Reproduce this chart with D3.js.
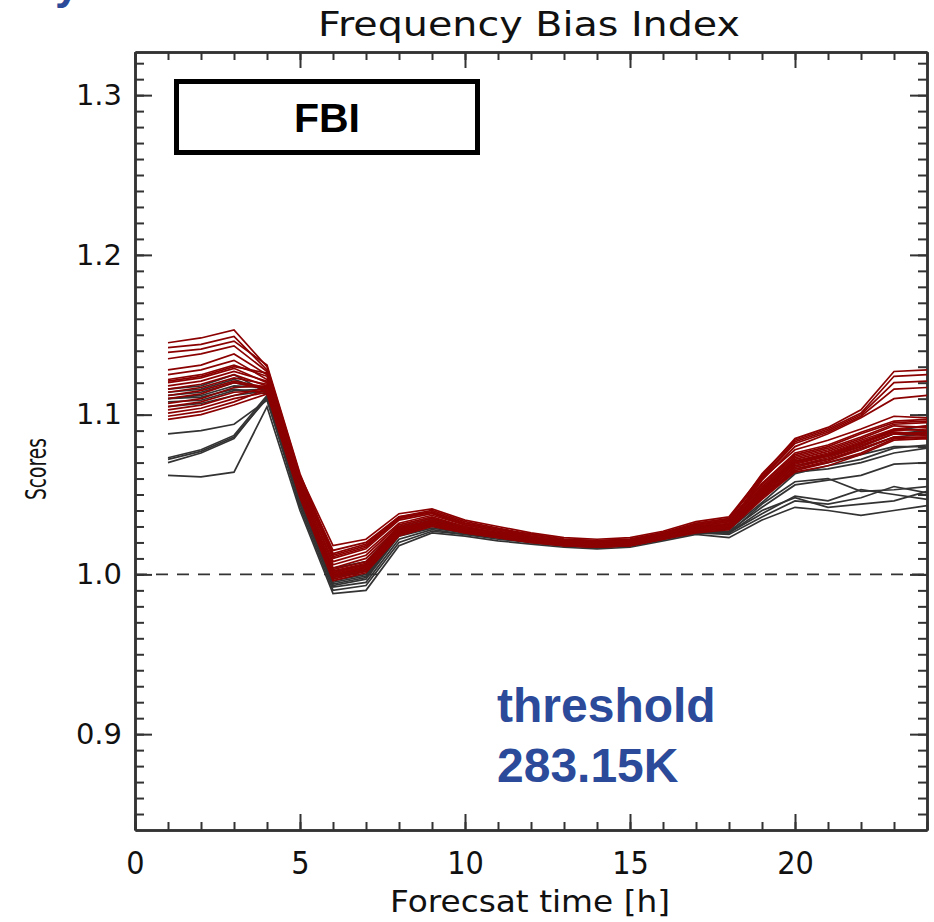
<!DOCTYPE html>
<html>
<head>
<meta charset="utf-8">
<script src="https://cdn.jsdelivr.net/npm/d3@7"></script>
<style>
  body { margin: 0; background: #fff; }
  svg { display: block; }
</style>
</head>
<body>
<div id="chart"></div>
<script>
// forecast hours
var hours = [1, 2, 3, 4, 5, 6, 7, 8, 9, 10, 11, 12, 13, 14, 15, 16, 17, 18, 19, 20, 21, 22, 23, 24];

// grey members (FBI per forecast hour)
var grey01 = [1.062, 1.061, 1.064, 1.105, 1.040, 0.988, 0.990, 1.018, 1.026, 1.024, 1.021, 1.019, 1.017, 1.016, 1.017, 1.021, 1.025, 1.023, 1.034, 1.042, 1.040, 1.037, 1.040, 1.043];
var grey02 = [1.072, 1.077, 1.086, 1.110, 1.042, 0.990, 0.993, 1.020, 1.027, 1.025, 1.022, 1.020, 1.018, 1.017, 1.018, 1.022, 1.026, 1.025, 1.036, 1.046, 1.044, 1.048, 1.055, 1.051];
var grey03 = [1.070, 1.076, 1.085, 1.111, 1.044, 0.992, 0.995, 1.022, 1.028, 1.025, 1.023, 1.020, 1.018, 1.017, 1.018, 1.022, 1.026, 1.026, 1.038, 1.049, 1.046, 1.053, 1.050, 1.047];
var grey04 = [1.073, 1.078, 1.087, 1.112, 1.046, 0.993, 0.997, 1.024, 1.029, 1.026, 1.023, 1.021, 1.019, 1.018, 1.019, 1.023, 1.027, 1.026, 1.040, 1.048, 1.042, 1.044, 1.046, 1.052];
var grey05 = [1.088, 1.090, 1.094, 1.109, 1.045, 0.994, 0.998, 1.025, 1.030, 1.026, 1.024, 1.021, 1.019, 1.018, 1.019, 1.023, 1.027, 1.027, 1.042, 1.056, 1.059, 1.062, 1.069, 1.070];
var grey06 = [1.105, 1.107, 1.112, 1.115, 1.048, 0.996, 1.000, 1.026, 1.031, 1.027, 1.024, 1.021, 1.019, 1.018, 1.019, 1.023, 1.028, 1.028, 1.045, 1.063, 1.068, 1.072, 1.079, 1.081];
var grey07 = [1.108, 1.109, 1.115, 1.116, 1.050, 0.998, 1.002, 1.027, 1.032, 1.028, 1.025, 1.022, 1.020, 1.019, 1.020, 1.024, 1.029, 1.029, 1.048, 1.066, 1.070, 1.075, 1.080, 1.080];
var grey08 = [1.110, 1.112, 1.118, 1.117, 1.052, 1.000, 1.004, 1.028, 1.033, 1.028, 1.025, 1.022, 1.020, 1.019, 1.020, 1.024, 1.029, 1.030, 1.050, 1.068, 1.072, 1.078, 1.086, 1.088];
var grey09 = [1.112, 1.114, 1.120, 1.116, 1.050, 1.002, 1.006, 1.029, 1.034, 1.029, 1.026, 1.023, 1.021, 1.019, 1.020, 1.024, 1.030, 1.031, 1.052, 1.070, 1.074, 1.080, 1.088, 1.090];
var grey10 = [1.114, 1.116, 1.122, 1.115, 1.052, 1.004, 1.008, 1.030, 1.035, 1.029, 1.026, 1.023, 1.021, 1.020, 1.021, 1.025, 1.030, 1.031, 1.053, 1.071, 1.075, 1.082, 1.090, 1.093];
var grey11 = [1.116, 1.118, 1.125, 1.114, 1.049, 0.999, 1.003, 1.027, 1.032, 1.028, 1.025, 1.022, 1.020, 1.019, 1.020, 1.024, 1.029, 1.029, 1.049, 1.064, 1.066, 1.070, 1.076, 1.079];
var grey12 = [1.110, 1.111, 1.116, 1.113, 1.046, 0.995, 0.999, 1.026, 1.031, 1.027, 1.024, 1.021, 1.019, 1.018, 1.019, 1.023, 1.027, 1.026, 1.044, 1.058, 1.060, 1.052, 1.053, 1.055];

// red members
var red01 = [1.145, 1.148, 1.153, 1.130, 1.062, 1.018, 1.022, 1.038, 1.041, 1.034, 1.030, 1.026, 1.023, 1.022, 1.023, 1.027, 1.033, 1.036, 1.062, 1.085, 1.092, 1.103, 1.127, 1.128];
var red02 = [1.142, 1.144, 1.149, 1.128, 1.060, 1.015, 1.020, 1.036, 1.040, 1.033, 1.029, 1.025, 1.022, 1.021, 1.022, 1.026, 1.032, 1.035, 1.060, 1.078, 1.084, 1.091, 1.099, 1.098];
var red03 = [1.139, 1.141, 1.146, 1.131, 1.063, 1.012, 1.018, 1.035, 1.039, 1.032, 1.028, 1.025, 1.022, 1.021, 1.022, 1.026, 1.031, 1.034, 1.063, 1.084, 1.091, 1.101, 1.124, 1.125];
var red04 = [1.135, 1.138, 1.143, 1.127, 1.058, 1.010, 1.016, 1.034, 1.038, 1.031, 1.027, 1.024, 1.021, 1.020, 1.021, 1.025, 1.031, 1.034, 1.057, 1.076, 1.081, 1.089, 1.096, 1.097];
var red05 = [1.128, 1.131, 1.138, 1.125, 1.060, 1.013, 1.019, 1.036, 1.039, 1.032, 1.028, 1.025, 1.022, 1.021, 1.022, 1.026, 1.032, 1.035, 1.061, 1.083, 1.090, 1.100, 1.120, 1.121];
var red06 = [1.125, 1.128, 1.134, 1.122, 1.056, 1.008, 1.014, 1.032, 1.037, 1.031, 1.027, 1.023, 1.021, 1.020, 1.021, 1.025, 1.030, 1.033, 1.055, 1.074, 1.079, 1.086, 1.094, 1.095];
var red07 = [1.122, 1.125, 1.131, 1.124, 1.057, 1.006, 1.012, 1.031, 1.036, 1.030, 1.026, 1.023, 1.020, 1.019, 1.020, 1.025, 1.030, 1.033, 1.054, 1.073, 1.078, 1.085, 1.093, 1.092];
var red08 = [1.120, 1.123, 1.129, 1.120, 1.055, 1.004, 1.010, 1.030, 1.035, 1.030, 1.026, 1.023, 1.020, 1.019, 1.020, 1.024, 1.029, 1.032, 1.060, 1.082, 1.089, 1.099, 1.116, 1.117];
var red09 = [1.118, 1.121, 1.127, 1.121, 1.054, 1.003, 1.008, 1.029, 1.034, 1.029, 1.025, 1.022, 1.020, 1.019, 1.020, 1.024, 1.029, 1.032, 1.053, 1.072, 1.077, 1.084, 1.091, 1.090];
var red10 = [1.116, 1.119, 1.125, 1.118, 1.053, 1.001, 1.006, 1.028, 1.034, 1.029, 1.025, 1.022, 1.019, 1.018, 1.019, 1.024, 1.028, 1.031, 1.059, 1.080, 1.088, 1.098, 1.110, 1.112];
var red11 = [1.114, 1.117, 1.123, 1.119, 1.054, 1.002, 1.007, 1.029, 1.033, 1.028, 1.025, 1.022, 1.019, 1.018, 1.019, 1.023, 1.028, 1.031, 1.052, 1.070, 1.075, 1.082, 1.089, 1.088];
var red12 = [1.112, 1.115, 1.121, 1.117, 1.052, 1.000, 1.005, 1.027, 1.033, 1.028, 1.024, 1.021, 1.019, 1.018, 1.019, 1.023, 1.028, 1.030, 1.051, 1.069, 1.074, 1.081, 1.088, 1.087];
var red13 = [1.110, 1.113, 1.120, 1.116, 1.051, 0.999, 1.004, 1.026, 1.032, 1.027, 1.024, 1.021, 1.019, 1.018, 1.019, 1.023, 1.027, 1.030, 1.050, 1.067, 1.072, 1.079, 1.086, 1.086];
var red14 = [1.107, 1.110, 1.117, 1.118, 1.053, 1.001, 1.006, 1.028, 1.033, 1.028, 1.025, 1.022, 1.019, 1.018, 1.019, 1.023, 1.028, 1.030, 1.052, 1.071, 1.076, 1.083, 1.090, 1.091];
var red15 = [1.105, 1.108, 1.114, 1.115, 1.050, 0.998, 1.003, 1.026, 1.031, 1.027, 1.024, 1.021, 1.018, 1.017, 1.018, 1.022, 1.027, 1.029, 1.049, 1.066, 1.071, 1.078, 1.086, 1.085];
var red16 = [1.103, 1.106, 1.112, 1.117, 1.052, 1.000, 1.005, 1.027, 1.032, 1.027, 1.024, 1.021, 1.019, 1.018, 1.019, 1.023, 1.028, 1.030, 1.051, 1.070, 1.075, 1.082, 1.091, 1.093];
var red17 = [1.101, 1.104, 1.110, 1.114, 1.049, 0.997, 1.002, 1.025, 1.031, 1.026, 1.023, 1.020, 1.018, 1.017, 1.018, 1.022, 1.027, 1.029, 1.048, 1.065, 1.070, 1.076, 1.085, 1.086];
var red18 = [1.099, 1.102, 1.108, 1.116, 1.051, 0.999, 1.004, 1.027, 1.032, 1.027, 1.024, 1.021, 1.019, 1.018, 1.019, 1.023, 1.028, 1.030, 1.050, 1.068, 1.073, 1.080, 1.088, 1.089];
var red19 = [1.097, 1.100, 1.106, 1.113, 1.048, 0.996, 1.001, 1.024, 1.030, 1.026, 1.023, 1.020, 1.018, 1.017, 1.018, 1.022, 1.026, 1.028, 1.047, 1.064, 1.068, 1.075, 1.084, 1.085];
var red20 = [1.121, 1.124, 1.130, 1.126, 1.059, 1.011, 1.017, 1.035, 1.039, 1.032, 1.028, 1.024, 1.021, 1.020, 1.021, 1.026, 1.031, 1.034, 1.056, 1.075, 1.080, 1.088, 1.095, 1.096];

var greySeries = [grey01, grey02, grey03, grey04, grey05, grey06, grey07, grey08, grey09, grey10, grey11, grey12];
var redSeries = [red01, red02, red03, red04, red05, red06, red07, red08, red09, red10, red11, red12,
                 red13, red14, red15, red16, red17, red18, red19, red20];

// axis ticks
var xMajorTicks = [0, 5, 10, 15, 20];
var yMajorTicks = [0.9, 1.0, 1.1, 1.2, 1.3];
var yTickLabels = ["0.9", "1.0", "1.1", "1.2", "1.3"];

// 圖表尺寸
var W = 934, H = 922;
var margin = { top: 52, right: 7, bottom: 92, left: 135 },
    width = W - margin.left - margin.right,
    height = H - margin.top - margin.bottom;

var svg = d3.select("#chart")
    .append("svg")
    .attr("width", W)
    .attr("height", H);

var g = svg.append("g")
    .attr("transform", "translate(" + margin.left + "," + margin.top + ")");

var x = d3.scaleLinear().domain([0, 24]).range([0, width]);
var y = d3.scaleLinear().domain([0.84, 1.327]).range([height, 0]);

var axisColor = "#333";
var tickFont = "'DejaVu Sans', sans-serif";

// minor ticks (1 h, 0.01)
var xMinor = d3.range(0, 25, 1);
var yMinor = d3.range(85, 133, 1).map(function(d) { return d / 100; });

function styleAxis(sel) {
    sel.selectAll("line").attr("stroke", axisColor).attr("stroke-width", 2);
    sel.selectAll("path").attr("stroke", axisColor).attr("stroke-width", 2.5);
}

// bottom
g.append("g").attr("transform", "translate(0," + height + ")")
    .call(d3.axisBottom(x).tickValues(xMinor).tickSize(-8).tickSizeOuter(0).tickFormat(""))
    .call(styleAxis);
var xAx = g.append("g").attr("transform", "translate(0," + height + ")")
    .call(d3.axisBottom(x).tickValues(xMajorTicks).tickSize(-16).tickSizeOuter(0).tickPadding(21)
        .tickFormat(d3.format("d")))
    .call(styleAxis);
xAx.selectAll("text")
    .attr("fill", "#111")
    .style("font-family", "'DejaVu Sans Condensed', 'DejaVu Sans', sans-serif")
    .style("font-size", "32px");

// top
g.append("g")
    .call(d3.axisTop(x).tickValues(xMinor).tickSize(-8).tickSizeOuter(0).tickFormat(""))
    .call(styleAxis);
g.append("g")
    .call(d3.axisTop(x).tickValues(xMajorTicks).tickSize(-16).tickSizeOuter(0).tickFormat(""))
    .call(styleAxis);

// left
g.append("g")
    .call(d3.axisLeft(y).tickValues(yMinor).tickSize(-9).tickSizeOuter(0).tickFormat(""))
    .call(styleAxis);
var yAx = g.append("g")
    .call(d3.axisLeft(y).tickValues(yMajorTicks).tickSize(-17).tickSizeOuter(0).tickPadding(13)
        .tickFormat(function(d, i) { return yTickLabels[i]; }))
    .call(styleAxis);
yAx.selectAll("text")
    .attr("fill", "#111")
    .style("font-family", tickFont)
    .style("font-size", "29px");

// right
g.append("g").attr("transform", "translate(" + width + ",0)")
    .call(d3.axisRight(y).tickValues(yMinor).tickSize(-9).tickSizeOuter(0).tickFormat(""))
    .call(styleAxis);
g.append("g").attr("transform", "translate(" + width + ",0)")
    .call(d3.axisRight(y).tickValues(yMajorTicks).tickSize(-17).tickSizeOuter(0).tickFormat(""))
    .call(styleAxis);

// 1.0 reference line
g.append("line")
    .attr("x1", 0).attr("x2", width)
    .attr("y1", y(1.0)).attr("y2", y(1.0))
    .attr("stroke", axisColor)
    .attr("stroke-width", 1.6)
    .attr("stroke-dasharray", "12,9");

// member lines
var line = d3.line()
    .x(function(d, i) { return x(hours[i]); })
    .y(function(d) { return y(d); });

g.selectAll(".grey")
    .data(greySeries)
    .enter()
    .append("path")
    .attr("class", "grey")
    .attr("d", line)
    .attr("fill", "none")
    .attr("stroke", "#333")
    .attr("stroke-width", 1.7);

g.selectAll(".red")
    .data(redSeries)
    .enter()
    .append("path")
    .attr("class", "red")
    .attr("d", line)
    .attr("fill", "none")
    .attr("stroke", "#8b0000")
    .attr("stroke-width", 1.7);

// FBI box
svg.append("rect")
    .attr("x", 176.5).attr("y", 81.5)
    .attr("width", 301).attr("height", 71)
    .attr("fill", "#fff")
    .attr("stroke", "#000")
    .attr("stroke-width", 5);
svg.append("text")
    .attr("x", 327).attr("y", 132)
    .attr("text-anchor", "middle")
    .style("font-family", "Arial, 'Liberation Sans', sans-serif")
    .style("font-weight", "bold")
    .style("font-size", "41px")
    .text("FBI");

// titles
svg.append("text")
    .attr("x", 529).attr("y", 36)
    .attr("text-anchor", "middle")
    .attr("textLength", 422)
    .attr("lengthAdjust", "spacingAndGlyphs")
    .attr("fill", "#111")
    .style("font-family", tickFont)
    .style("font-size", "33px")
    .text("Frequency Bias Index");

svg.append("text")
    .attr("x", 530).attr("y", 912)
    .attr("text-anchor", "middle")
    .attr("textLength", 280)
    .attr("lengthAdjust", "spacingAndGlyphs")
    .attr("fill", "#111")
    .style("font-family", tickFont)
    .style("font-size", "31px")
    .text("Forecsat time [h]");

svg.append("text")
    .attr("transform", "translate(46,469) rotate(-90)")
    .attr("text-anchor", "middle")
    .attr("textLength", 62)
    .attr("lengthAdjust", "spacingAndGlyphs")
    .attr("fill", "#111")
    .style("font-family", tickFont)
    .style("font-size", "29px")
    .text("Scores");

// blue annotation
var blue = "#2c4a9a";
svg.append("text")
    .attr("x", 497).attr("y", 722)
    .attr("fill", blue)
    .style("font-family", "Arial, 'Liberation Sans', sans-serif")
    .style("font-weight", "bold")
    .style("font-size", "48px")
    .text("threshold");
svg.append("text")
    .attr("x", 497).attr("y", 782)
    .attr("fill", blue)
    .style("font-family", "Arial, 'Liberation Sans', sans-serif")
    .style("font-weight", "bold")
    .style("font-size", "48px")
    .text("283.15K");

// clipped slide title remnant (cut by the top edge, as in the source)
svg.append("text")
    .attr("x", 55).attr("y", -1)
    .attr("fill", blue)
    .style("font-family", "Arial, 'Liberation Sans', sans-serif")
    .style("font-weight", "bold")
    .style("font-size", "44px")
    .text("y");
</script>
</body>
</html>
